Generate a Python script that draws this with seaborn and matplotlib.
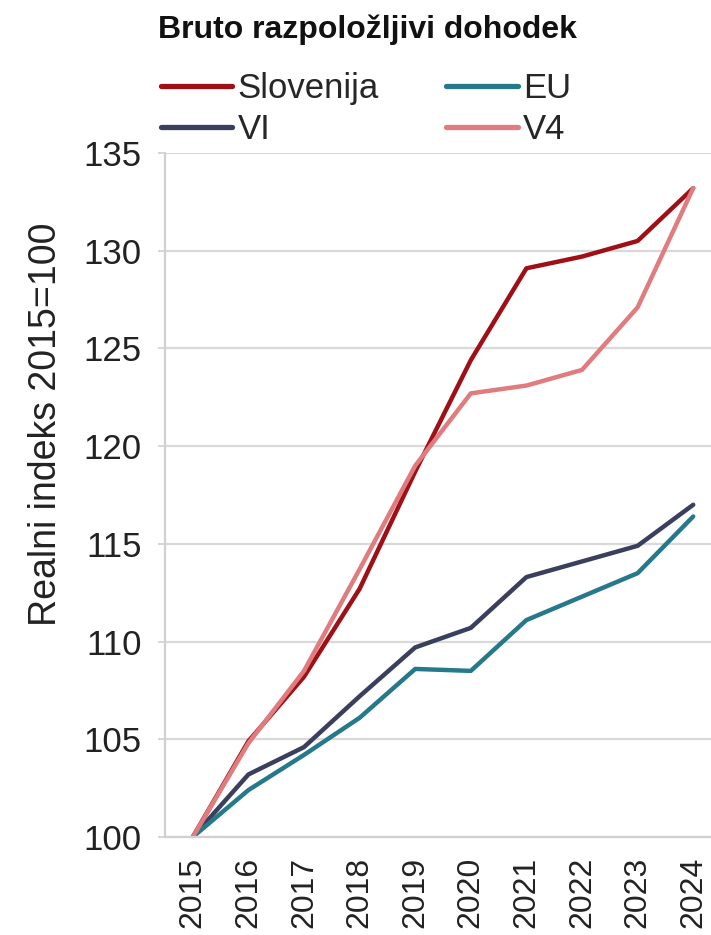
import matplotlib
matplotlib.use("Agg")
import matplotlib.pyplot as plt
import seaborn as sns
import pandas as pd

years = [2015, 2016, 2017, 2018, 2019, 2020, 2021, 2022, 2023, 2024]
slovenija = [100.0, 104.9, 108.2, 112.7, 118.7, 124.4, 129.1, 129.7, 130.5, 133.2]
eu = [100.0, 102.4, 104.2, 106.1, 108.6, 108.5, 111.1, 112.3, 113.5, 116.4]
vi = [100.0, 103.2, 104.6, 107.2, 109.7, 110.7, 113.3, 114.1, 114.9, 117.0]
v4 = [100.0, 104.8, 108.5, 113.7, 119.0, 122.7, 123.1, 123.9, 127.1, 133.2]

series_names = ["Slovenija", "VI", "EU", "V4"]
colors = {"Slovenija": "#9E0F16", "VI": "#3B3F5E", "EU": "#25798B", "V4": "#E07C7F"}

title = "Bruto razpoložljivi dohodek"
ylabel = "Realni indeks 2015=100"
yticks = [100, 105, 110, 115, 120, 125, 130, 135]

rows = []
for name, vals in zip(["Slovenija", "VI", "EU", "V4"], [slovenija, vi, eu, v4]):
    for y, v in zip(years, vals):
        rows.append({"Leto": y, "Indeks": v, "Serija": name})
df = pd.DataFrame(rows)

sns.set_style("white")
plt.rcParams["font.family"] = ["Liberation Sans", "DejaVu Sans"]

fig = plt.figure(figsize=(7.11, 9.35), dpi=100)
ax = fig.add_axes([165 / 711, 1 - 837 / 935, 1 - 165 / 711, (837 - 153) / 935])

sns.lineplot(data=df, x="Leto", y="Indeks", hue="Serija", hue_order=series_names,
             palette=colors, linewidth=3.2, ax=ax, legend=True)

ax.set_xlim(2014.5, 2024.32)
ax.set_ylim(100, 135)
ax.set_yticks(yticks)
ax.set_xticks(years)
ax.set_xticklabels([str(y) for y in years], rotation=90)
ax.yaxis.grid(True, color="#D9D9D9", linewidth=1.6)
ax.xaxis.grid(False)
ax.set_axisbelow(True)
for s in ["top", "right"]:
    ax.spines[s].set_visible(False)
for s in ["left", "bottom"]:
    ax.spines[s].set_color("#D0D0D0")
    ax.spines[s].set_linewidth(1.6)
ax.tick_params(axis="x", length=8, width=1.4, color="#D0D0D0", labelsize=23, labelcolor="#222222", pad=6, direction="out")
ax.tick_params(axis="y", length=5, width=1.2, color="#D0D0D0", labelsize=25, labelcolor="#222222", pad=12, left=True)
ax.set_xlabel("")
ax.set_ylabel(ylabel, fontsize=27, color="#222222")
ax.yaxis.set_label_coords((64 - 165) / 546, (837 - 424) / 684)

handles, labels = ax.get_legend_handles_labels()
ax.legend_.remove()
fig.legend(handles, labels, loc="upper left", bbox_to_anchor=(161 / 711, 1 - 72 / 935),
           ncol=2, frameon=False, fontsize=25, handlelength=2.05, handletextpad=0.15,
           columnspacing=1.95, labelspacing=0.24, borderpad=0, borderaxespad=0)
for h in fig.legends[0].get_lines():
    h.set_linewidth(3.8)

fig.text(158 / 711, 1 - 30 / 935, title, fontsize=23, fontweight="bold", color="#111111",
         ha="left", va="center")

fig.savefig("out.png", dpi=100)
